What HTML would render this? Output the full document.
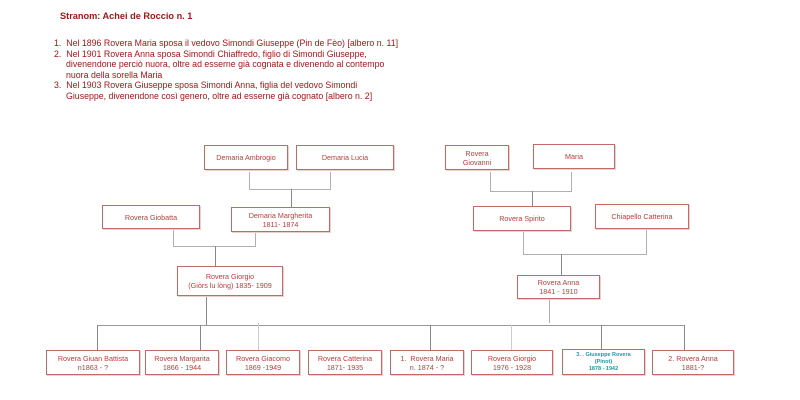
<!DOCTYPE html>
<html><head><meta charset="utf-8"><style>
body{margin:0;background:#fff;width:800px;height:400px;position:relative;overflow:hidden;font-family:"Liberation Sans",sans-serif}
.t{position:absolute;color:#a01818;font-size:8.8px;line-height:10.6px}
.b{position:absolute;border:1px solid #c46a66;box-sizing:border-box;display:flex;align-items:center;justify-content:center;text-align:center;color:#b5403c;font-size:7.2px;line-height:9px;background:#fff;box-shadow:1px 1px 0 #ead0ce}
.h{position:absolute;height:1px;background:#b0b0b0}
.v{position:absolute;width:1px;background:#b0b0b0}
.d{background:#888}
</style></head><body>
<div class="t" style="left:60px;top:11px;font-weight:bold;font-size:9.2px">Stranom: Achei de Roccio n. 1</div>
<div class="t" style="left:54px;top:38px">1.&nbsp; Nel 1896 Rovera Maria sposa il vedovo Simondi Giuseppe (Pin de Fèo) [albero n. 11]</div>
<div class="t" style="left:54px;top:48.6px">2.&nbsp; Nel 1901 Rovera Anna sposa Simondi Chiaffredo, figlio di Simondi Giuseppe,</div>
<div class="t" style="left:66px;top:59.2px">divenendone perciò nuora, oltre ad esserne già cognata e divenendo al contempo</div>
<div class="t" style="left:66px;top:69.8px">nuora della sorella Maria</div>
<div class="t" style="left:54px;top:80.4px">3.&nbsp; Nel 1903 Rovera Giuseppe sposa Simondi Anna, figlia del vedovo Simondi</div>
<div class="t" style="left:66px;top:91px">Giuseppe, divenendone così genero, oltre ad esserne già cognato [albero n. 2]</div>

<div class="v" style="left:249px;top:172px;height:17px"></div>
<div class="v" style="left:330px;top:172px;height:17px"></div>
<div class="h" style="left:249px;top:189px;width:82px"></div>
<div class="v d" style="left:291px;top:189px;height:18px"></div>

<div class="v" style="left:173px;top:229px;height:17px"></div>
<div class="v" style="left:255px;top:229px;height:17px"></div>
<div class="h" style="left:173px;top:246px;width:83px"></div>
<div class="v d" style="left:215px;top:246px;height:20px"></div>

<div class="v" style="left:490px;top:172px;height:19px"></div>
<div class="v" style="left:571px;top:172px;height:19px"></div>
<div class="h" style="left:490px;top:191px;width:82px"></div>
<div class="v d" style="left:532px;top:191px;height:16px"></div>

<div class="v" style="left:523px;top:231px;height:23px"></div>
<div class="v" style="left:646px;top:229px;height:25px"></div>
<div class="h" style="left:523px;top:254px;width:124px"></div>
<div class="v d" style="left:561px;top:254px;height:21px"></div>

<div class="v d" style="left:206px;top:296px;height:29px"></div>
<div class="v" style="left:549px;top:298px;height:25px"></div>
<div class="h" style="left:97px;top:325px;width:588px;background:#999"></div>
<div class="v d" style="left:97px;top:325px;height:25px"></div>
<div class="v d" style="left:200px;top:325px;height:25px"></div>
<div class="v" style="left:258px;top:323px;height:27px;background:#ccc"></div>
<div class="v d" style="left:430px;top:325px;height:25px"></div>
<div class="v" style="left:511px;top:325px;height:25px;background:#ccc"></div>
<div class="v d" style="left:601px;top:325px;height:25px"></div>
<div class="v d" style="left:684px;top:325px;height:25px"></div>

<div class="b" style="left:204px;top:145px;width:84px;height:25px">Demaria Ambrogio</div>
<div class="b" style="left:296px;top:145px;width:98px;height:25px">Demaria Lucia</div>
<div class="b" style="left:102px;top:205px;width:98px;height:24px">Rovera Giobatta</div>
<div class="b" style="left:231px;top:207px;width:99px;height:25px">Demaria Margherita<br>1811- 1874</div>
<div class="b" style="left:177px;top:266px;width:106px;height:30px">Rovera Giorgio<br>(Giòrs lu lòng) 1835- 1909</div>
<div class="b" style="left:445px;top:145px;width:64px;height:25px">Rovera<br>Giovanni</div>
<div class="b" style="left:533px;top:144px;width:82px;height:25px">Maria</div>
<div class="b" style="left:473px;top:206px;width:98px;height:25px">Rovera Spirito</div>
<div class="b" style="left:595px;top:204px;width:94px;height:25px">Chiapello Catterina</div>
<div class="b" style="left:517px;top:275px;width:83px;height:24px">Rovera Anna<br>1841 - 1910</div>

<div class="b" style="left:46px;top:350px;width:94px;height:25px">Rovera Giuan Battista<br>n1863 - ?</div>
<div class="b" style="left:145px;top:350px;width:74px;height:25px">Rovera Margarita<br>1866 - 1944</div>
<div class="b" style="left:226px;top:350px;width:74px;height:25px">Rovera Giacomo<br>1869 -1949</div>
<div class="b" style="left:308px;top:350px;width:74px;height:25px">Rovera Catterina<br>1871- 1935</div>
<div class="b" style="left:390px;top:350px;width:74px;height:25px">1.&nbsp; Rovera Maria<br>n. 1874 - ?</div>
<div class="b" style="left:471px;top:350px;width:82px;height:25px">Rovera Giorgio<br>1976 - 1928</div>
<div class="b" style="left:562px;top:349px;width:83px;height:26px;color:#1a9aa8;font-size:5.5px;line-height:7px;font-weight:bold">3. . Giuseppe Rovera<br>(Pinot)<br>1878 - 1942</div>
<div class="b" style="left:652px;top:350px;width:82px;height:25px">2. Rovera Anna<br>1881-?</div>
</body></html>
